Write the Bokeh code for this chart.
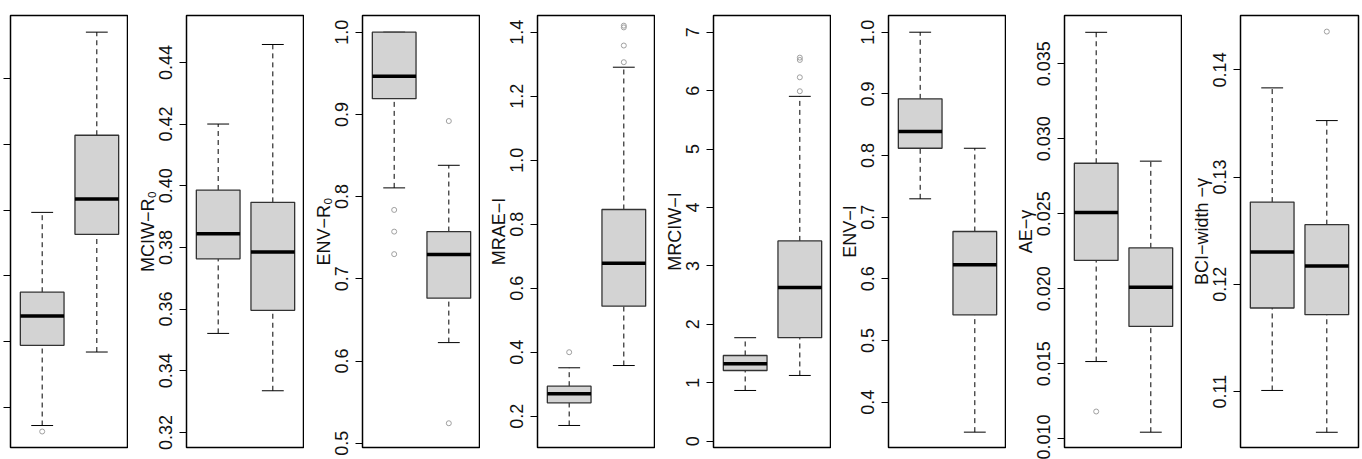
from bokeh.plotting import figure
from bokeh.layouts import row
from bokeh.models import Range1d, FixedTicker, ColumnDataSource
from bokeh.embed import file_html
from bokeh.resources import INLINE

# ---------------- data ----------------
labels = ["", "MCIW−R₀", "ENV−R₀", "MRAE−I", "MRCIW−I", "ENV−I", "AE−γ", "BCI−width −γ"]

# each box: [lower whisker, Q1, median, Q3, upper whisker]
box_a = [
    [0.1726, 0.2944, 0.3392, 0.3752, 0.4965],
    [0.3521, 0.3763, 0.3844, 0.3986, 0.4200],
    [0.8106, 0.9191, 0.9465, 1.0000, 1.0000],
    [0.1710, 0.2419, 0.2700, 0.2938, 0.3513],
    [0.868, 1.210, 1.325, 1.467, 1.771],
    [0.7298, 0.8118, 0.8389, 0.8919, 1.0000],
    [0.01515, 0.02189, 0.02509, 0.02837, 0.03710],
    [0.1101, 0.11779, 0.12301, 0.12767, 0.13832],
]
box_b = [
    [0.2843, 0.4631, 0.5167, 0.6137, 0.7704],
    [0.3335, 0.3596, 0.3785, 0.3946, 0.4458],
    [0.6224, 0.6764, 0.7296, 0.7575, 0.8381],
    [0.3584, 0.5438, 0.6780, 0.8460, 1.2906],
    [1.125, 1.771, 2.629, 3.428, 5.902],
    [0.3514, 0.5416, 0.6227, 0.6768, 0.8118],
    [0.01044, 0.01749, 0.02010, 0.02273, 0.02851],
    [0.1062, 0.11717, 0.12171, 0.12556, 0.13527],
]
out_a = [[0.1635], [], [0.7838, 0.7574, 0.7300], [0.400], [], [], [0.01182], []]
out_b = [[], [], [0.8919, 0.5243], [1.3063, 1.3584, 1.4150, 1.4205],
         [5.99, 6.228, 6.525, 6.565], [], [], [0.14357]]

ylims = [
    (0.1392, 0.7957), (0.3151, 0.4552), (0.4948, 1.0203), (0.1022, 1.4522),
    (-0.108, 7.2858), (0.3265, 1.0271), (0.00942, 0.03822), (0.10478, 0.14507),
]
tick_values = [
    [0.2, 0.3, 0.4, 0.5, 0.6, 0.7],
    [0.32, 0.34, 0.36, 0.38, 0.40, 0.42, 0.44],
    [0.5, 0.6, 0.7, 0.8, 0.9, 1.0],
    [0.2, 0.4, 0.6, 0.8, 1.0, 1.2, 1.4],
    [0, 1, 2, 3, 4, 5, 6, 7],
    [0.4, 0.5, 0.6, 0.7, 0.8, 0.9, 1.0],
    [0.010, 0.015, 0.020, 0.025, 0.030, 0.035],
    [0.11, 0.12, 0.13, 0.14],
]
tick_labels = [
    ["", "", "", "", "", ""],
    ["0.32", "0.34", "0.36", "0.38", "0.40", "0.42", "0.44"],
    ["0.5", "0.6", "0.7", "0.8", "0.9", "1.0"],
    ["0.2", "0.4", "0.6", "0.8", "1.0", "1.2", "1.4"],
    ["0", "1", "2", "3", "4", "5", "6", "7"],
    ["0.4", "0.5", "0.6", "0.7", "0.8", "0.9", "1.0"],
    ["0.010", "0.015", "0.020", "0.025", "0.030", "0.035"],
    ["0.11", "0.12", "0.13", "0.14"],
]
positions = [1, 2]

# ---------------- layout ----------------
FONT = "Liberation Sans"
FS = "18px"
FRAME_W = 118
left_borders = [10, 58, 58, 57, 58, 57, 58, 58]
BOX_W = 0.8
STAPLE_W = 0.4

figs = []
for i in range(8):
    lo, hi = ylims[i]
    p = figure(width=left_borders[i] + FRAME_W + (2 if i == 7 else 0), height=459,
               x_range=Range1d(0.42, 2.58), y_range=Range1d(lo, hi),
               output_backend="svg", toolbar_location=None,
               min_border_left=left_borders[i], min_border_right=(2 if i == 7 else 0),
               min_border_top=15, min_border_bottom=12)
    p.xaxis.visible = False
    p.xgrid.visible = False
    p.ygrid.visible = False
    p.outline_line_color = "black"
    p.outline_line_width = 1.5
    p.background_fill_color = "white"
    p.border_fill_color = "white"

    ax = p.yaxis[0]
    ax.ticker = FixedTicker(ticks=tick_values[i])
    ax.major_label_overrides = {v: s for v, s in zip(tick_values[i], tick_labels[i])}
    ax.minor_tick_line_color = None
    ax.major_tick_in = 0
    ax.major_tick_out = 7
    ax.major_tick_line_color = "black"
    ax.major_tick_line_width = 1
    ax.axis_line_color = "black"
    ax.major_label_orientation = "vertical"
    ax.major_label_text_font = FONT
    ax.major_label_text_color = "#111111"
    if i == 0:
        ax.major_label_text_font_size = "0px"
        ax.major_label_standoff = 0
    else:
        ax.major_label_text_font_size = FS
        ax.major_label_standoff = 7
        ax.axis_label = labels[i]
        ax.axis_label_text_font = FONT
        ax.axis_label_text_font_size = FS
        ax.axis_label_text_font_style = "normal"
        ax.axis_label_text_color = "#111111"
        ax.axis_label_standoff = -1

    boxes = [box_a[i], box_b[i]]
    src = ColumnDataSource(dict(
        x=positions,
        lw=[b[0] for b in boxes], q1=[b[1] for b in boxes], med=[b[2] for b in boxes],
        q3=[b[3] for b in boxes], uw=[b[4] for b in boxes],
        xl=[x - BOX_W / 2 for x in positions], xr=[x + BOX_W / 2 for x in positions],
        sl=[x - STAPLE_W / 2 for x in positions], sr=[x + STAPLE_W / 2 for x in positions],
    ))
    # whiskers (dashed)
    p.segment(x0="x", y0="q3", x1="x", y1="uw", source=src, line_color="black",
              line_width=1, line_dash="5 4")
    p.segment(x0="x", y0="lw", x1="x", y1="q1", source=src, line_color="black",
              line_width=1, line_dash="5 4")
    # staples
    p.segment(x0="sl", y0="uw", x1="sr", y1="uw", source=src, line_color="black", line_width=1)
    p.segment(x0="sl", y0="lw", x1="sr", y1="lw", source=src, line_color="black", line_width=1)
    # boxes
    p.vbar(x="x", width=BOX_W, bottom="q1", top="q3", source=src,
           fill_color="#D3D3D3", line_color="#333333", line_width=1.3)
    # medians
    p.segment(x0="xl", y0="med", x1="xr", y1="med", source=src, line_color="black",
              line_width=3.5)
    # outliers
    ox = [positions[0]] * len(out_a[i]) + [positions[1]] * len(out_b[i])
    oy = list(out_a[i]) + list(out_b[i])
    if oy:
        p.scatter(ox, oy, marker="circle", size=5, fill_color=None,
                  line_color="#A0A0A0", line_width=1)
    figs.append(p)

layout = row(*figs, spacing=0)
open("out.html", "w").write(file_html(layout, INLINE))
